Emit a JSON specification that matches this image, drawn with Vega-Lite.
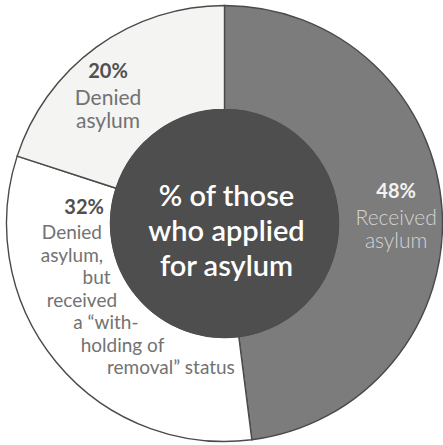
{
  "$schema": "https://vega.github.io/schema/vega-lite/v6.json",
  "width": 435,
  "height": 437,
  "autosize": {"type": "none"},
  "padding": {"left": 7, "top": 5, "right": 1, "bottom": 3},
  "background": "#ffffff",
  "config": {"view": {"stroke": null}, "font": "Lato"},
  "data": {"values": [
    {"status": "Received asylum", "value": 48, "order": 1, "pct": "48%"},
    {"status": "Denied asylum, but received a withholding of removal status", "value": 32, "order": 2, "pct": "32%"},
    {"status": "Denied asylum", "value": 20, "order": 3, "pct": "20%"}
  ]},
  "layer": [
    {
      "mark": {"type": "arc", "radius": 218, "innerRadius": 114, "stroke": "#4a4a4a", "strokeWidth": 1.4},
      "encoding": {
        "theta": {"field": "value", "type": "quantitative", "stack": true},
        "order": {"field": "order", "type": "quantitative"},
        "color": {"field": "status", "type": "nominal", "legend": null,
          "scale": {"domain": ["Received asylum", "Denied asylum, but received a withholding of removal status", "Denied asylum"], "range": ["#7c7c7c", "#ffffff", "#f4f4f2"]}}
      }
    },
    {
      "data": {"values": [{"part": "center"}]},
      "mark": {"type": "arc", "radius": 114.5, "theta": 0, "theta2": 6.2832, "fill": "#4e4e4e"}
    },
    {
      "data": {"values": [{"part": "center"}]},
      "mark": {"type": "text", "text": ["% of those", "who applied", "for asylum"], "fontSize": 29, "fontWeight": 600, "fill": "#ffffff", "align": "center", "baseline": "alphabetic", "lineHeight": 35, "dx": 2, "dy": -18}
    },
    {
      "mark": {"type": "text", "radius": 172, "fontSize": 20, "fontWeight": "bold", "fill": "#f2f2f2", "align": "center", "baseline": "alphabetic", "dy": -15},
      "encoding": {
        "theta": {"field": "value", "type": "quantitative", "stack": true},
        "order": {"field": "order", "type": "quantitative"},
        "text": {"condition": {"test": "datum.order === 1", "field": "pct"}, "value": ""}
      }
    },
    {
      "mark": {"type": "text", "radius": 172, "fontSize": 21, "fontWeight": 300, "fill": "#d4d4d4", "align": "center", "baseline": "alphabetic", "lineBreak": "\n", "lineHeight": 23, "dy": 12},
      "encoding": {
        "theta": {"field": "value", "type": "quantitative", "stack": true},
        "order": {"field": "order", "type": "quantitative"},
        "text": {"condition": {"test": "datum.order === 1", "value": "Received\nasylum"}, "value": ""}
      }
    },
    {
      "mark": {"type": "text", "radius": 175, "fontSize": 20, "fontWeight": "bold", "fill": "#505050", "align": "center", "baseline": "alphabetic", "dx": -13.6, "dy": -4},
      "encoding": {
        "theta": {"field": "value", "type": "quantitative", "stack": true},
        "order": {"field": "order", "type": "quantitative"},
        "text": {"condition": {"test": "datum.order === 3", "field": "pct"}, "value": ""}
      }
    },
    {
      "mark": {"type": "text", "radius": 175, "fontSize": 21, "fill": "#727272", "align": "center", "baseline": "alphabetic", "lineBreak": "\n", "lineHeight": 23, "dx": -13.6, "dy": 23},
      "encoding": {
        "theta": {"field": "value", "type": "quantitative", "stack": true},
        "order": {"field": "order", "type": "quantitative"},
        "text": {"condition": {"test": "datum.order === 3", "value": "Denied\nasylum"}, "value": ""}
      }
    },
    {
      "mark": {"type": "text", "radius": 150, "fontSize": 20, "fontWeight": "bold", "fill": "#505050", "align": "right", "baseline": "alphabetic", "dx": -5, "dy": -105},
      "encoding": {
        "theta": {"field": "value", "type": "quantitative", "stack": true},
        "order": {"field": "order", "type": "quantitative"},
        "text": {"condition": {"test": "datum.order === 2", "field": "pct"}, "value": ""}
      }
    },
    {
      "mark": {"type": "text", "radius": 150, "fontSize": 19, "fill": "#727272", "align": "center", "baseline": "alphabetic", "lineBreak": "\n", "lineHeight": 22.5, "dx": -37, "dy": -80},
      "encoding": {
        "theta": {"field": "value", "type": "quantitative", "stack": true},
        "order": {"field": "order", "type": "quantitative"},
        "text": {"condition": {"test": "datum.order === 2", "value": "Denied\nasylum,"}, "value": ""}
      }
    },
    {
      "mark": {"type": "text", "radius": 150, "fontSize": 19, "fill": "#727272", "align": "center", "baseline": "alphabetic", "dx": -12.4, "dy": -35},
      "encoding": {
        "theta": {"field": "value", "type": "quantitative", "stack": true},
        "order": {"field": "order", "type": "quantitative"},
        "text": {"condition": {"test": "datum.order === 2", "value": "but"}, "value": ""}
      }
    },
    {
      "mark": {"type": "text", "radius": 150, "fontSize": 19, "fill": "#727272", "align": "center", "baseline": "alphabetic", "dx": -27, "dy": -12.5},
      "encoding": {
        "theta": {"field": "value", "type": "quantitative", "stack": true},
        "order": {"field": "order", "type": "quantitative"},
        "text": {"condition": {"test": "datum.order === 2", "value": "received"}, "value": ""}
      }
    },
    {
      "mark": {"type": "text", "radius": 150, "fontSize": 19, "fill": "#727272", "align": "center", "baseline": "alphabetic", "dx": -3, "dy": 10},
      "encoding": {
        "theta": {"field": "value", "type": "quantitative", "stack": true},
        "order": {"field": "order", "type": "quantitative"},
        "text": {"condition": {"test": "datum.order === 2", "value": "a “with-"}, "value": ""}
      }
    },
    {
      "mark": {"type": "text", "radius": 150, "fontSize": 19, "fill": "#727272", "align": "center", "baseline": "alphabetic", "dx": 13.6, "dy": 32.5},
      "encoding": {
        "theta": {"field": "value", "type": "quantitative", "stack": true},
        "order": {"field": "order", "type": "quantitative"},
        "text": {"condition": {"test": "datum.order === 2", "value": "holding of"}, "value": ""}
      }
    },
    {
      "mark": {"type": "text", "radius": 150, "fontSize": 19, "fill": "#727272", "align": "center", "baseline": "alphabetic", "dx": 62, "dy": 55},
      "encoding": {
        "theta": {"field": "value", "type": "quantitative", "stack": true},
        "order": {"field": "order", "type": "quantitative"},
        "text": {"condition": {"test": "datum.order === 2", "value": "removal” status"}, "value": ""}
      }
    }
  ]
}
